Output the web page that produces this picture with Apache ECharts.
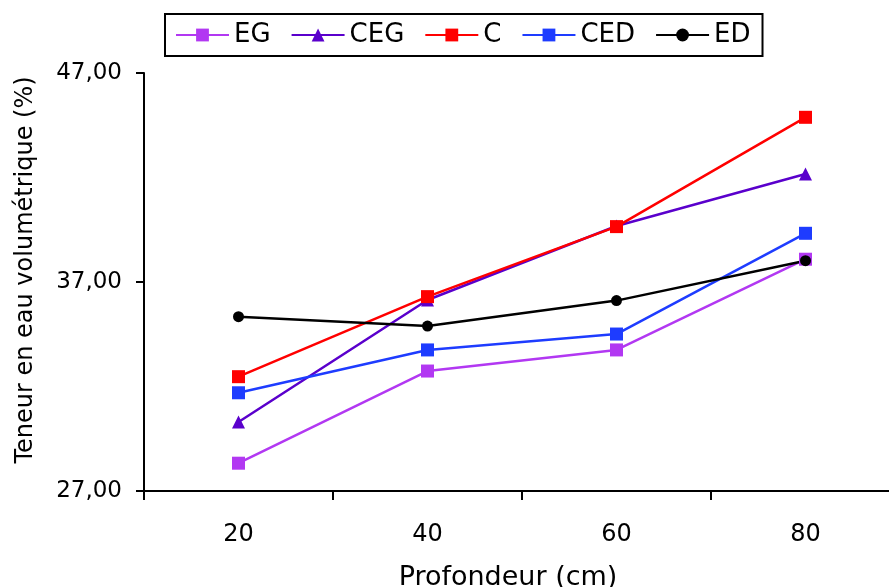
<!DOCTYPE html>
<html>
<head>
<meta charset="utf-8">
<script src="https://cdn.jsdelivr.net/npm/echarts@6/dist/echarts.min.js"></script>
<style>
  html, body { margin: 0; padding: 0; background: #fff; }
  #chart { width: 889px; height: 587px; }
</style>
</head>
<body>
<div id="chart"></div>
<script>
// Depth classes (cm) and volumetric water content (%) per treatment
const depths = ['20', '40', '60', '80'];
const seriesEG  = [28.33, 32.74, 33.75, 38.09];
const seriesCEG = [30.30, 36.14, 39.68, 42.17];
const seriesC   = [32.47, 36.30, 39.65, 44.88];
const seriesCED = [31.70, 33.75, 34.51, 39.33];
const seriesED  = [35.34, 34.89, 36.11, 38.02];

const yMin = 27, yMax = 47, yStep = 10;
const yTickLabels = ['27,00', '37,00', '47,00'];

const FONT = 'DejaVu Sans';

function lineSeries(name, data, color, symbol, size) {
  return {
    name: name,
    type: 'line',
    data: data,
    symbol: symbol,
    symbolSize: size,
    showSymbol: true,
    lineStyle: { color: color, width: 2.5 },
    itemStyle: { color: color, borderWidth: 0 },
    emphasis: { disabled: true },
    animation: false
  };
}

const chart = echarts.init(document.getElementById('chart'), null, { renderer: 'canvas' });
chart.setOption({
  backgroundColor: '#ffffff',
  animation: false,
  legend: {
    left: 165,
    top: 14,
    padding: [8, 12, 8, 10],
    itemWidth: 53,
    itemHeight: 16,
    itemGap: 20,
    borderColor: '#000',
    borderWidth: 2,
    textStyle: { fontFamily: FONT, fontSize: 26, color: '#000' },
    data: ['EG', 'CEG', 'C', 'CED', 'ED']
  },
  grid: { left: 144, top: 73, bottom: 96, right: -11, containLabel: false, outerBoundsMode: 'none' },
  xAxis: {
    type: 'category',
    data: depths,
    boundaryGap: true,
    name: 'Profondeur (cm)',
    nameLocation: 'middle',
    nameGap: 73,
    nameTextStyle: { fontFamily: FONT, fontSize: 27, color: '#000', padding: [0, 28, 0, 0] },
    axisLine: { lineStyle: { color: '#000', width: 2 } },
    axisTick: { show: true, length: 9, lineStyle: { color: '#000', width: 2 } },
    axisLabel: { fontFamily: FONT, fontSize: 24, color: '#000', margin: 32 },
    splitLine: { show: false }
  },
  yAxis: {
    type: 'value',
    min: yMin,
    max: yMax,
    interval: yStep,
    name: 'Teneur en eau volumétrique (%)',
    nameLocation: 'middle',
    nameGap: 106,
    nameTextStyle: { fontFamily: FONT, fontSize: 24, color: '#000', padding: [0, 0, 0, 24] },
    axisLine: { show: true, lineStyle: { color: '#000', width: 2 } },
    axisTick: { show: true, length: 8, lineStyle: { color: '#000', width: 2 } },
    axisLabel: {
      fontFamily: FONT, fontSize: 23, color: '#000', margin: 22,
      formatter: function (v) { return yTickLabels[Math.round((v - yMin) / yStep)]; }
    },
    splitLine: { show: false }
  },
  series: [
    lineSeries('EG', seriesEG, '#B238F2', 'rect', 13),
    lineSeries('CEG', seriesCEG, '#5A00CC', 'triangle', 13),
    lineSeries('C', seriesC, '#FF0000', 'rect', 13),
    lineSeries('CED', seriesCED, '#1E3CFF', 'rect', 13),
    lineSeries('ED', seriesED, '#000000', 'circle', 11)
  ]
});
</script>
</body>
</html>
